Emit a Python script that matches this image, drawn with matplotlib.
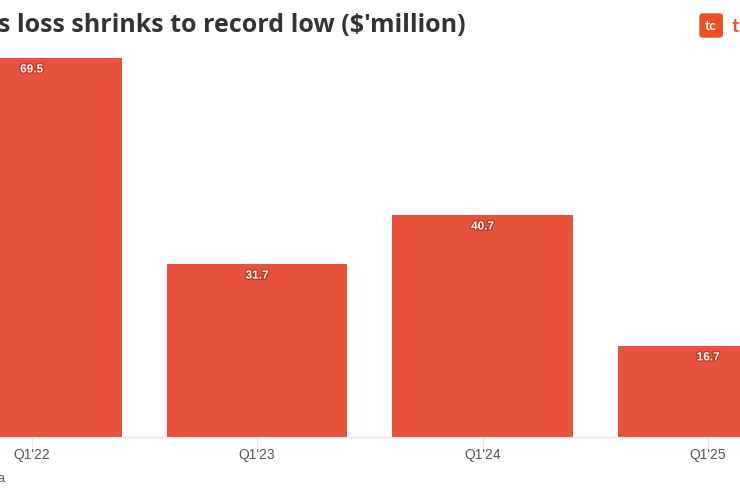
import matplotlib.pyplot as plt
import matplotlib.patheffects as pe
from matplotlib.patches import FancyBboxPatch

# данные
quarters = ["Q1'22", "Q1'23", "Q1'24", "Q1'25"]
losses = [69.5, 31.7, 40.7, 16.7]

bar_color = '#E8513A'

fig = plt.figure(figsize=(7.4, 5), dpi=100)
# оси шире фигуры: крайние столбцы обрезаны, как на исходнике
ax = fig.add_axes([-0.1098, 0.126, 1.219, 0.818])

x = range(len(quarters))
bars = ax.bar(x, losses, width=0.8, color=bar_color, zorder=2)

ax.set_xlim(-0.5, 3.5)
ax.set_ylim(0, 75)
ax.set_xticks(list(x))
ax.set_xticklabels(quarters, fontsize=10, color='#555555', family='Liberation Sans')
ax.tick_params(axis='x', length=7, color='#e6e6e6', pad=1)
ax.set_yticks([])
for s in ['top', 'right', 'left']:
    ax.spines[s].set_visible(False)
ax.spines['bottom'].set_color('#e6e6e6')

for b, v in zip(bars, losses):
    ax.text(b.get_x() + b.get_width() / 2, v - 1.0, f'{v}', ha='center', va='top',
            fontsize=8.5, fontweight='bold', color='white', family='Liberation Sans',
            path_effects=[pe.withStroke(linewidth=2, foreground='#c0392b')])

# заголовок (обрезан слева)
fig.text(-0.003, 0.935, "s loss shrinks to record low ($'million)", fontsize=18,
         fontweight='bold', color='#333333', family='Open Sans', va='baseline')

# логотип
logo = FancyBboxPatch((0.946, 0.926), 0.030, 0.046, boxstyle='round,pad=0,rounding_size=0.004',
                      transform=fig.transFigure, color='#F04E23')
fig.patches.append(logo)
fig.text(0.961, 0.948, 'tc', fontsize=10, fontweight='bold', color='white',
         ha='center', va='center', family='Lato')
fig.text(0.989, 0.948, 't', fontsize=14, fontweight='bold', color='#F04E23',
         ha='left', va='center', family='Lato')

# подпись источника (обрезана)
fig.text(0.006, 0.035, 'a', fontsize=9, color='#555555', ha='right', family='Liberation Sans')

plt.savefig('out.png', dpi=100)
